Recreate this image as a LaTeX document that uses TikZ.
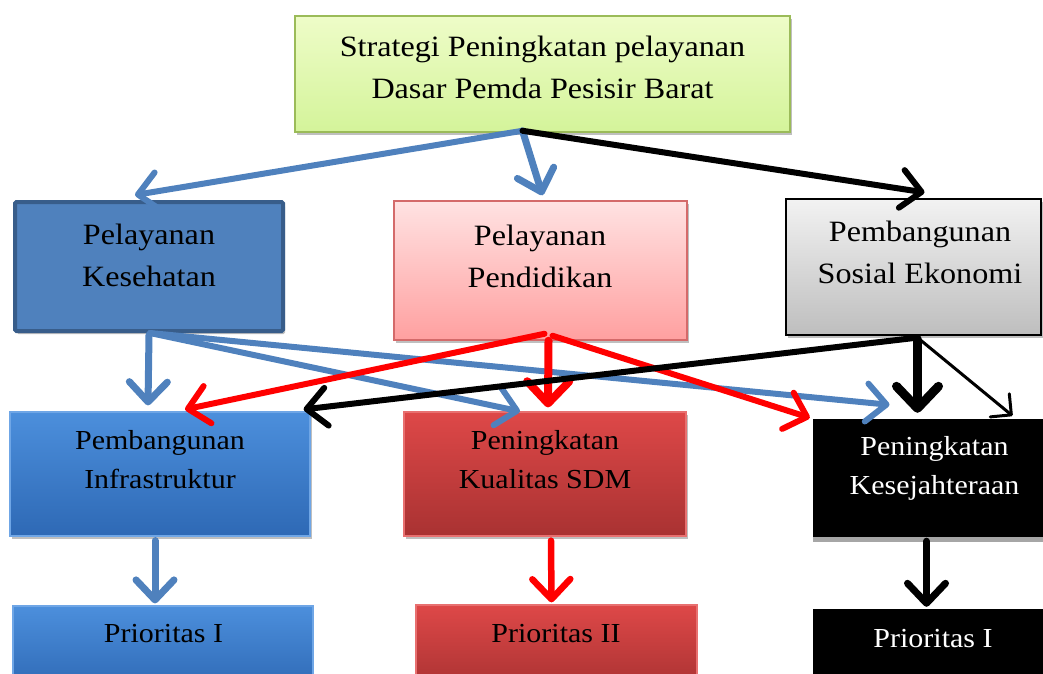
\documentclass[tikz,border=0pt]{standalone}
\usepackage{fontspec}
\setmainfont{Liberation Serif}[FakeStretch=1.09]
\usetikzlibrary{arrows.meta,calc,shadows}
\definecolor{ablue}{HTML}{4F81BD}
\definecolor{kesfill}{HTML}{4F81BD}
\definecolor{kesdraw}{HTML}{385D8A}
\definecolor{grtop}{HTML}{EEFCC8}
\definecolor{grbot}{HTML}{D4F49A}
\definecolor{grdraw}{HTML}{9BBB59}
\definecolor{pktop}{HTML}{FFE2E2}
\definecolor{pkbot}{HTML}{FFA0A0}
\definecolor{pkdraw}{HTML}{D46A6A}
\definecolor{gytop}{HTML}{F2F2F2}
\definecolor{gybot}{HTML}{BEBEBE}
\definecolor{bltop}{HTML}{4C8FDC}
\definecolor{blbot}{HTML}{2E69B5}
\definecolor{bldraw}{HTML}{6FA6E6}
\definecolor{rdtop}{HTML}{DE4848}
\definecolor{rdbot}{HTML}{A93232}
\definecolor{rddraw}{HTML}{E87070}
\newcommand\fbig{\fontsize{29.5}{41.5}\selectfont}
\newcommand\fmid{\fontsize{27.5}{39}\selectfont}
\tikzset{
  box/.style={rectangle, inner sep=0pt},
  shad/.style={drop shadow={shadow xshift=2pt,shadow yshift=-3pt,opacity=0.25,fill=black}},
  txt/.style={align=center, anchor=base, inner sep=0pt},
  tip/.style 2 args={-{Straight Barb[length=#1,width=#2,round]}, line cap=round},
  barrow/.style={draw=ablue, line width=6.5pt, tip={20pt}{38pt}},
  rarrow/.style={draw=red, line width=6pt, tip={20pt}{38pt}},
  karrow/.style={draw=black, line width=6pt, tip={20pt}{38pt}},
}
\begin{document}
\begin{tikzpicture}[x=1pt,y=-1pt]
\useasboundingbox (0,0) rectangle (1043,673);
\clip (0,0) rectangle (1043,673);
% boxes
\node[box, shad, minimum width=495pt, minimum height=116pt, top color=grtop, bottom color=grbot, draw=grdraw, line width=1.5pt] (top) at (542.5,74) {};
\node[box, shad, minimum width=268pt, minimum height=129pt, fill=kesfill, draw=kesdraw, line width=4pt, rounded corners=1.5pt] (kes) at (149,266.5) {};
\node[box, shad, minimum width=293pt, minimum height=139pt, top color=pktop, bottom color=pkbot, draw=pkdraw, line width=1.5pt] (pend) at (540.5,270.5) {};
\node[box, shad, minimum width=255pt, minimum height=136pt, top color=gytop, bottom color=gybot, draw=black, line width=1.2pt] (sos) at (913.5,267) {};
\node[box, shad, minimum width=300pt, minimum height=124pt, top color=bltop, bottom color=blbot, draw=bldraw, line width=1.2pt] (infra) at (160,474) {};
\node[box, shad, minimum width=282pt, minimum height=124pt, top color=rdtop, bottom color=rdbot, draw=rddraw, line width=1.2pt] (sdm) at (545,474) {};
\node[box, drop shadow={shadow xshift=0pt,shadow yshift=-5pt,opacity=1,fill=gray!70}, minimum width=237pt, minimum height=118pt, fill=black] (kesej) at (931.5,478) {};
\node[box, minimum width=300pt, minimum height=84pt, top color=bltop, bottom color=blbot, draw=bldraw, line width=1.2pt] (p1) at (163,648) {};
\node[box, minimum width=281pt, minimum height=85pt, top color=rdtop, bottom color=rdbot, draw=rddraw, line width=1.2pt] (p2) at (556.5,647.5) {};
\node[box, minimum width=237pt, minimum height=81pt, fill=black] (p3) at (931.5,649.5) {};
% texts (anchor base = baseline of last line)
\node[txt, font=\fbig] (ttop) at (542.5,98) {Strategi Peningkatan pelayanan\\Dasar Pemda Pesisir Barat};
\node[txt, font=\fbig] (tkes) at (149,286) {Pelayanan\\Kesehatan};
\node[txt, font=\fbig] (tpend) at (540,287) {Pelayanan\\Pendidikan};
\node[txt, font=\fbig] (tsos) at (920,283) {Pembangunan\\Sosial Ekonomi};
\node[txt, font=\fmid] (tinfra) at (160,488) {Pembangunan\\Infrastruktur};
\node[txt, font=\fmid] (tsdm) at (545,488) {Peningkatan\\Kualitas SDM};
\node[txt, font=\fmid, text=white] (tkesej) at (934.5,494) {Peningkatan\\Kesejahteraan};
\node[txt, font=\fmid] (tp1) at (163.5,642) {Prioritas I};
\node[txt, font=\fmid] (tp2) at (556,642) {Prioritas II};
\node[txt, font=\fmid, text=white] (tp3) at (933,647) {Prioritas I};
% blue connectors
\draw[barrow, line width=6pt] ($(top.south)+(-20,-2)$) -- ($(kes.north)+(-14,-5)$);
\draw[barrow, line width=7pt, tip={20pt}{38pt}] ($(top.south)+(-20,-2)$) -- ($(pend.north)+(2,-5)$);
\draw[barrow, line width=7pt] ($(kes.south)+(0,2)$) -- ($(infra.north)+(-12,-6)$);
\draw[barrow, line width=6pt] ($(kes.south)+(1,0)$) -- ($(sdm.north)+(-25,0)$);
\draw[barrow, line width=6pt] ($(kes.south)+(1,0)$) -- ($(kesej.north)+(-42,-14)$);
\draw[barrow, line width=7pt] ($(infra.south)+(-5,4)$) -- ($(p1.north)+(-8,-2)$);
% red connectors
\draw[rarrow] ($(pend.south)+(4,-7)$) -- ($(infra.north)+(25,-2)$);
\draw[rarrow, line width=8pt, tip={22pt}{42pt}] ($(pend.south)+(8,0)$) -- ($(sdm.north)+(3,-4)$);
\draw[rarrow] ($(pend.south)+(12,-5)$) -- ($(kesej.north west)+(-3,-1)$);
\draw[rarrow, line width=6.5pt] ($(sdm.south)+(6,4)$) -- ($(p2.north)+(-5,-2)$);
% black connectors
\draw[karrow] ($(top.south)+(-20,-2)$) -- ($(sos.north)+(11,-6)$);
\draw[karrow] ($(sos.south)+(4,2)$) -- ($(infra.north east)+(-7,-2)$);
\draw[karrow, line width=9pt, tip={22pt}{42pt}] ($(sos.south)+(4,4)$) -- ($(kesej.north)+(-14,-6)$);
\draw[karrow, line width=3pt, tip={15pt}{30pt}] ($(sos.south)+(4,2)$) -- ($(kesej.north)+(81,-3)$);
\draw[karrow, line width=7pt] ($(kesej.south)+(-5,4)$) -- ($(p3.north)+(-5,-2)$);
\end{tikzpicture}
\end{document}
